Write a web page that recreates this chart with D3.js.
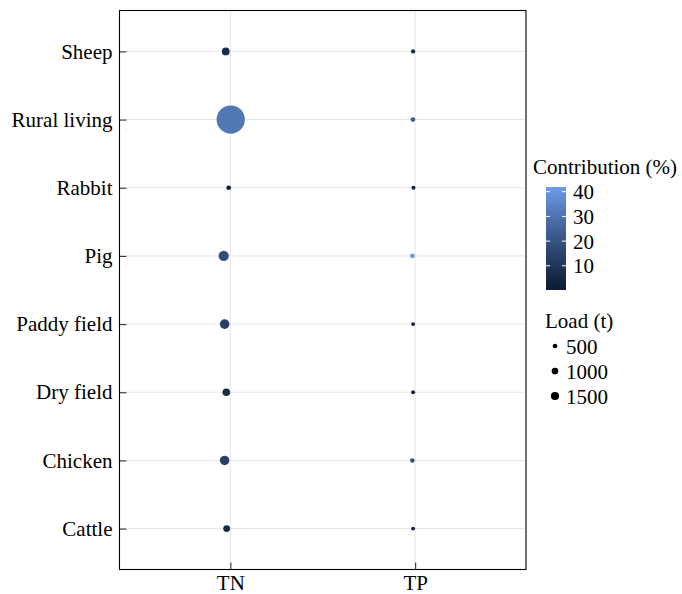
<!DOCTYPE html>
<html>
<head>
<meta charset="utf-8">
<script src="https://cdn.jsdelivr.net/npm/d3@7"></script>
<style>
body { margin: 0; background: #fff; }
text { font-family: "Liberation Serif", "Times New Roman", serif; fill: #000; }
</style>
</head>
<body>
<div id="chart"></div>
<script>
// categories, top to bottom
var sources = ["Sheep", "Rural living", "Rabbit", "Pig", "Paddy field", "Dry field", "Chicken", "Cattle"];
var nutrients = ["TN", "TP"];

// load (t)
var loadTN = [1350, 17800, 500, 2350, 2070, 1280, 2000, 1050];
var loadTP = [410, 500, 340, 500, 340, 340, 450, 340];

// contribution (%)
var contribTN = [7, 31, 1.5, 18, 14, 6, 14, 6];
var contribTP = [5, 23, 2, 41.5, 3, 3, 19, 3.5];

// horizontal jitter of each dot, in category units
var jitterTN = [-0.025, 0.002, -0.009, -0.036, -0.031, -0.022, -0.031, -0.02];
var jitterTP = [-0.011, -0.012, -0.009, -0.015, -0.011, -0.011, -0.015, -0.011];

var colorTicks = [10, 20, 30, 40];
var sizeBreaks = [500, 1000, 1500];

var svgWidth = 682, svgHeight = 594;
var panel = {left: 119.5, right: 526, top: 10.5, bottom: 569.5};
var fontSize = "21px";

var svg = d3.select("#chart").append("svg")
	.attr("width", svgWidth)
	.attr("height", svgHeight);

var xScale = d3.scalePoint().domain(nutrients).range([panel.left, panel.right]).padding(0.6);
var yScale = d3.scalePoint().domain(sources).range([panel.top, panel.bottom]).padding(0.6);

var colorScale = d3.scaleLinear()
	.domain([0.2, 41.9])
	.range(["#0c1a31", "#6c9ce8"])
	.interpolate(d3.interpolateLab);

var rScale = d3.scaleSqrt().domain([0, 1500]).range([0, 4.1]);

var data = [];
sources.forEach(function(s, i) {
	data.push({source: s, nutrient: "TN", load: loadTN[i], contrib: contribTN[i], jitter: jitterTN[i]});
	data.push({source: s, nutrient: "TP", load: loadTP[i], contrib: contribTP[i], jitter: jitterTP[i]});
});

// gridlines
var grid = svg.append("g").attr("class", "grid");
grid.selectAll(".gy").data(sources).enter().append("line")
	.attr("x1", panel.left).attr("x2", panel.right)
	.attr("y1", function(d) { return yScale(d); })
	.attr("y2", function(d) { return yScale(d); })
	.attr("stroke", "#e6e6e6").attr("stroke-width", 1);
grid.selectAll(".gx").data(nutrients).enter().append("line")
	.attr("y1", panel.top).attr("y2", panel.bottom)
	.attr("x1", function(d) { return xScale(d); })
	.attr("x2", function(d) { return xScale(d); })
	.attr("stroke", "#e6e6e6").attr("stroke-width", 1);

// points
svg.append("g").selectAll("circle")
	.data(data).enter().append("circle")
	.attr("cx", function(d) { return xScale(d.nutrient) + d.jitter * xScale.step(); })
	.attr("cy", function(d) { return yScale(d.source); })
	.attr("r", function(d) { return rScale(d.load); })
	.attr("fill", function(d) { return colorScale(d.contrib); });

// axes with inward ticks
var xAxis = svg.append("g")
	.attr("transform", "translate(0," + panel.bottom + ")")
	.call(d3.axisBottom(xScale).tickSize(-7).tickPadding(6));
var yAxis = svg.append("g")
	.attr("transform", "translate(" + panel.left + ",0)")
	.call(d3.axisLeft(yScale).tickSize(-7).tickPadding(7));
[xAxis, yAxis].forEach(function(a) {
	a.select(".domain").remove();
	a.selectAll(".tick line").attr("stroke", "#333").attr("stroke-width", 1.1);
	a.selectAll(".tick text").style("font-size", fontSize).attr("fill", "#000")
		.style("font-family", "'Liberation Serif', serif");
});

// panel border
svg.append("rect")
	.attr("x", panel.left).attr("y", panel.top)
	.attr("width", panel.right - panel.left)
	.attr("height", panel.bottom - panel.top)
	.attr("fill", "none").attr("stroke", "#000").attr("stroke-width", 1.1);

// colour legend
var barX = 546, barW = 20, barTop = 187, barBottom = 290;
var barScale = d3.scaleLinear().domain(colorScale.domain()).range([barBottom, barTop]);

svg.append("text").attr("x", 533).attr("y", 174).style("font-size", fontSize).text("Contribution (%)");

var defs = svg.append("defs");
var grad = defs.append("linearGradient").attr("id", "cgrad")
	.attr("x1", 0).attr("y1", 1).attr("x2", 0).attr("y2", 0);
d3.range(0, 1.0001, 0.1).forEach(function(t) {
	var v = colorScale.domain()[0] + t * (colorScale.domain()[1] - colorScale.domain()[0]);
	grad.append("stop").attr("offset", t).attr("stop-color", colorScale(v));
});
svg.append("rect")
	.attr("x", barX).attr("y", barTop).attr("width", barW).attr("height", barBottom - barTop)
	.attr("fill", "url(#cgrad)");

var cleg = svg.append("g");
cleg.selectAll(".tl").data(colorTicks).enter().append("line")
	.attr("x1", barX).attr("x2", barX + 4)
	.attr("y1", function(d) { return barScale(d); }).attr("y2", function(d) { return barScale(d); })
	.attr("stroke", "#fff").attr("stroke-width", 1);
cleg.selectAll(".tr").data(colorTicks).enter().append("line")
	.attr("x1", barX + barW - 4).attr("x2", barX + barW)
	.attr("y1", function(d) { return barScale(d); }).attr("y2", function(d) { return barScale(d); })
	.attr("stroke", "#fff").attr("stroke-width", 1);
cleg.selectAll("text").data(colorTicks).enter().append("text")
	.attr("x", 573)
	.attr("y", function(d) { return barScale(d); })
	.attr("dy", "0.36em")
	.style("font-size", fontSize)
	.text(function(d) { return d; });

// size legend
svg.append("text").attr("x", 545).attr("y", 328).style("font-size", fontSize).text("Load (t)");
var sizeY = d3.scalePoint().domain(sizeBreaks).range([346, 396]);
var sleg = svg.append("g").selectAll("g").data(sizeBreaks).enter().append("g")
	.attr("transform", function(d) { return "translate(555," + sizeY(d) + ")"; });
sleg.append("circle").attr("r", function(d) { return rScale(d); }).attr("fill", "#000");
sleg.append("text").attr("x", 11).attr("dy", "0.36em").style("font-size", fontSize)
	.text(function(d) { return d; });
</script>
</body>
</html>
